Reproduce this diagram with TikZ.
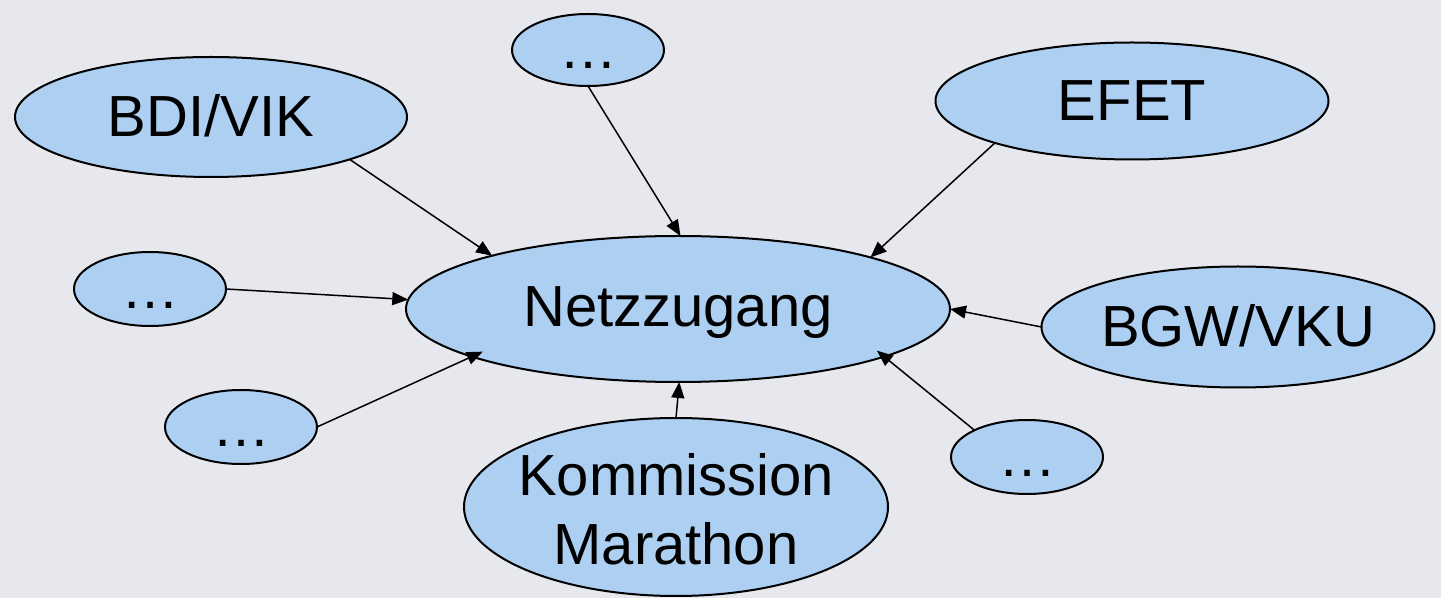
\documentclass[tikz,border=0pt]{standalone}
\usepackage{fontspec}
\setmainfont{Liberation Sans}
\usetikzlibrary{shapes.geometric,arrows.meta}
\definecolor{bg}{RGB}{230,232,237}
\definecolor{bubfill}{RGB}{173,207,242}
\tikzset{
  bub/.style={ellipse, draw=black, line width=1pt, fill=bubfill, inner sep=0pt, outer sep=0pt},
  lbl/.style={anchor=base, inner sep=0pt, font=\fontsize{29}{34}\selectfont},
  conn/.style={line width=0.75pt, -{Triangle[length=8pt,width=6.5pt]}}
}
\begin{document}
\begin{tikzpicture}[x=0.5pt,y=-0.5pt]
\fill[bg] (0,0) rectangle (1441,598);
\useasboundingbox (0,0) rectangle (1441,598);
% bubbles
\node[bub, minimum width=392pt*0.5, minimum height=120pt*0.5] (bdi) at (211,117) {};
\node[bub, minimum width=152pt*0.5, minimum height=72pt*0.5] (dtop) at (588,50) {};
\node[bub, minimum width=393pt*0.5, minimum height=117pt*0.5] (efet) at (1132,101) {};
\node[bub, minimum width=152pt*0.5, minimum height=74pt*0.5] (dleft) at (150,289) {};
\node[bub, minimum width=544pt*0.5, minimum height=146pt*0.5] (netz) at (678,309) {};
\node[bub, minimum width=393pt*0.5, minimum height=121pt*0.5] (bgw) at (1238,327) {};
\node[bub, minimum width=152pt*0.5, minimum height=74pt*0.5] (dll) at (241,427) {};
\node[bub, minimum width=424pt*0.5, minimum height=178pt*0.5] (komm) at (676,507) {};
\node[bub, minimum width=152pt*0.5, minimum height=74pt*0.5] (dlr) at (1027,457) {};
% labels
\node[lbl] (tbdi) at (211,137) {BDI/VIK};
\node[lbl] (tdtop) at (588,69) {\char"2026};
\node[lbl] (tefet) at (1132,121) {EFET};
\node[lbl] (tdleft) at (150,309) {\char"2026};
\node[lbl] (tnetz) at (678,327) {Netzzugang};
\node[lbl] (tbgw) at (1238,347) {BGW/VKU};
\node[lbl] (tdll) at (241,447) {\char"2026};
\node[lbl] (tkomm1) at (676,496) {Kommission};
\node[lbl] (tkomm2) at (676,565) {Marathon};
\node[lbl] (tdlr) at (1027,477) {\char"2026};
% connectors
\draw[conn] (bdi.-17) -- (netz.164);
\draw[conn] (dtop.-90) -- (netz.88.5);
\draw[conn] (efet.197.6) -- (netz.15.8);
\draw[conn] (dleft.0) -- (netz.178.7);
\draw[conn, shorten >=-6pt] (dll.0) -- (netz.193.6);
\draw[conn] (komm.90) -- (netz.-89);
\draw[conn] (bgw.180) -- (netz.0.8);
\draw[conn, shorten >=-4.7pt] (dlr.153.9) -- (netz.-13.6);
\end{tikzpicture}
\end{document}
